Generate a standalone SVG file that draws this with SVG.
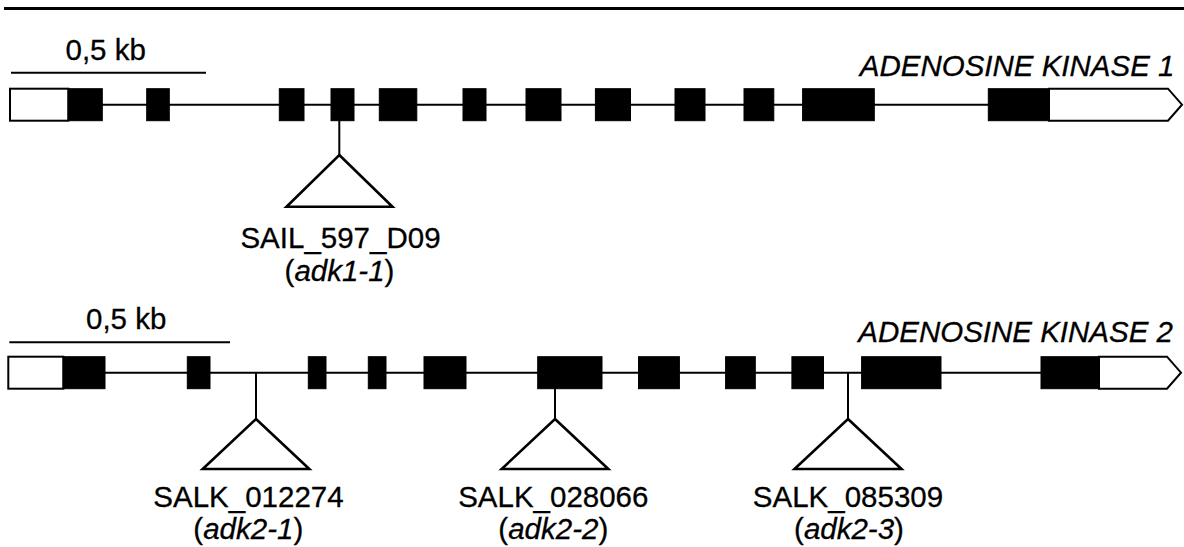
<svg xmlns="http://www.w3.org/2000/svg" width="1184" height="547" viewBox="0 0 1184 547">
<style>
text{font-family:"Liberation Sans",Arial,sans-serif;font-size:29.5px;fill:#000;stroke:#000;stroke-width:0.3}
.it{font-style:italic}
.mid{text-anchor:middle}
.end{text-anchor:end}
.intron{stroke:#000;stroke-width:2;fill:none}
.exon{fill:#000;stroke:#000;stroke-width:1}
.utr{fill:#fff;stroke:#000;stroke-width:2}
.ins{stroke:#000;stroke-width:2;fill:none}
.tri{fill:#fff;stroke:#000;stroke-width:2.6;stroke-linejoin:miter}
.bar{stroke:#000;stroke-width:2}
</style>
<rect width="1184" height="547" fill="#fff"/>
<line x1="4" y1="8.5" x2="1184" y2="8.5" stroke="#000" stroke-width="3"/>

<g id="gene1">
  <line class="bar" x1="11" y1="72.7" x2="206" y2="72.7"/>
  <text x="65.5" y="60">0,5 kb</text>
  <text class="it end" x="1174.5" y="75.5">ADENOSINE KINASE 1</text>
  <line class="intron" x1="10" y1="104.7" x2="1168" y2="104.7"/>
  <rect class="utr" x="10" y="88.7" width="58.3" height="32"/>
  <path class="utr" d="M1049,88.7 H1168 L1182,104.7 L1168,120.7 H1049 Z"/>
  <rect class="exon" x="68.3" y="88.7" width="34" height="32"/>
  <rect class="exon" x="146.7" y="88.7" width="22.6" height="32"/>
  <rect class="exon" x="279.3" y="88.7" width="24.7" height="32"/>
  <rect class="exon" x="331" y="88.7" width="23" height="32"/>
  <rect class="exon" x="379.3" y="88.7" width="37.5" height="32"/>
  <rect class="exon" x="463" y="88.7" width="23" height="32"/>
  <rect class="exon" x="526" y="88.7" width="35" height="32"/>
  <rect class="exon" x="595.4" y="88.7" width="35.1" height="32"/>
  <rect class="exon" x="675" y="88.7" width="30" height="32"/>
  <rect class="exon" x="744" y="88.7" width="29.8" height="32"/>
  <rect class="exon" x="802.6" y="88.7" width="71.7" height="32"/>
  <rect class="exon" x="988.3" y="88.7" width="60.7" height="32"/>
</g>

<g id="gene2">
  <line class="bar" x1="9.3" y1="342.3" x2="230" y2="342.3"/>
  <text x="86" y="328.5">0,5 kb</text>
  <text class="it end" x="1173" y="342">ADENOSINE KINASE 2</text>
  <line class="intron" x1="8.3" y1="372.7" x2="1167" y2="372.7"/>
  <rect class="utr" x="8.3" y="356.7" width="55" height="32"/>
  <path class="utr" d="M1099,356.7 H1167 L1181,372.7 L1167,388.7 H1099 Z"/>
  <rect class="exon" x="63.3" y="356.7" width="41.7" height="32"/>
  <rect class="exon" x="187.3" y="356.7" width="22.7" height="32"/>
  <rect class="exon" x="308.3" y="356.7" width="17.7" height="32"/>
  <rect class="exon" x="368.3" y="356.7" width="17.7" height="32"/>
  <rect class="exon" x="424" y="356.7" width="42" height="32"/>
  <rect class="exon" x="537.7" y="356.7" width="64.3" height="32"/>
  <rect class="exon" x="638.5" y="356.7" width="40.9" height="32"/>
  <rect class="exon" x="725.6" y="356.7" width="29.7" height="32"/>
  <rect class="exon" x="791.9" y="356.7" width="31.6" height="32"/>
  <rect class="exon" x="861.6" y="356.7" width="79.4" height="32"/>
  <rect class="exon" x="1041" y="356.7" width="58" height="32"/>
</g>

<g id="connectors">
  <line class="ins" x1="339.3" y1="120.7" x2="339.3" y2="155"/>
  <line class="ins" x1="256" y1="372.7" x2="256" y2="419"/>
  <line class="ins" x1="555" y1="388.7" x2="555" y2="419"/>
  <line class="ins" x1="848" y1="372.7" x2="848" y2="419"/>
</g>

<g id="ins-sail">
  <polygon class="tri" points="339.3,155 392.5,206.7 286.5,206.7"/>
  <text class="mid" x="340.5" y="247.5">SAIL_597_D09</text>
  <text class="mid" x="339.5" y="280.5">(<tspan class="it">adk1-1</tspan>)</text>
</g>
<g id="ins-salk1">
  <polygon class="tri" points="256,419 309.3,469 202.7,469"/>
  <text class="mid" x="248.5" y="506.7">SALK_012274</text>
  <text class="mid" x="248.3" y="538.5">(<tspan class="it">adk2-1</tspan>)</text>
</g>
<g id="ins-salk2">
  <polygon class="tri" points="555,419 608.3,469 501.7,469"/>
  <text class="mid" x="553.3" y="506.7">SALK_028066</text>
  <text class="mid" x="553.3" y="538.5">(<tspan class="it">adk2-2</tspan>)</text>
</g>
<g id="ins-salk3">
  <polygon class="tri" points="848,419 901.5,469 794.5,469"/>
  <text class="mid" x="848" y="506.7">SALK_085309</text>
  <text class="mid" x="849" y="538.5">(<tspan class="it">adk2-3</tspan>)</text>
</g>
</svg>
